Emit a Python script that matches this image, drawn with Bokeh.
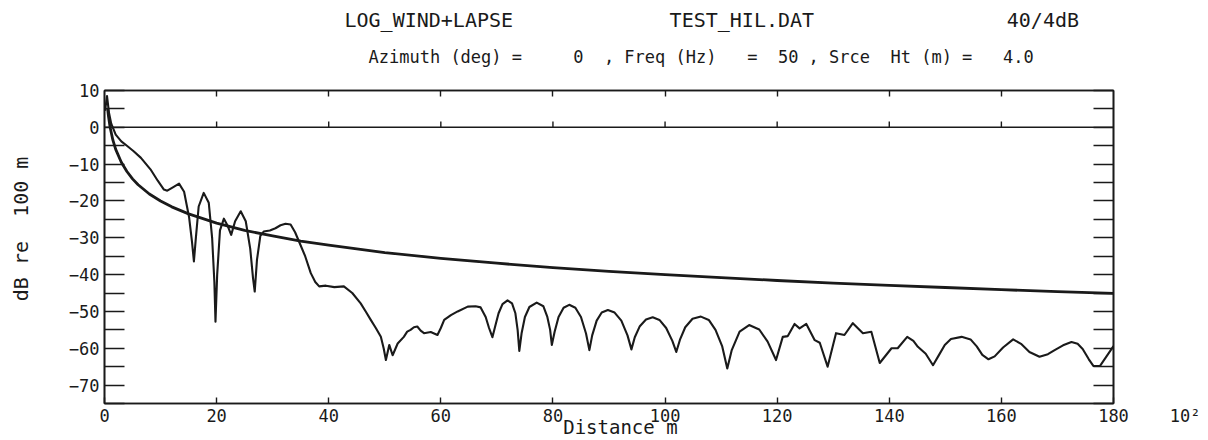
from bokeh.plotting import figure
from bokeh.models import FixedTicker, LinearAxis, Span, Range1d, Title
from bokeh.embed import file_html
from bokeh.resources import INLINE

# ---------------- data ----------------
# distance in units of 100 m, level in dB re 100 m
ref_dist = [0.55, 0.7, 1.0, 1.5, 2.0, 3.0, 4.0, 5.0, 6.0, 8.0, 10.0, 12.0, 15.0, 20.0, 25.0,
            30.0, 35.0, 40.0, 50.0, 60.0, 70.0, 80.0, 90.0, 100.0, 110.0, 120.0, 130.0,
            140.0, 150.0, 160.0, 170.0, 180.0]
ref_level = [5.2, 3.1, 0.0, -3.5, -6.0, -9.5, -12.0, -14.0, -15.6, -18.1, -20.0, -21.6, -23.5,
             -26.0, -28.0, -29.5, -30.9, -32.0, -34.0, -35.6, -36.9, -38.1, -39.1, -40.0,
             -40.8, -41.6, -42.3, -42.9, -43.5, -44.1, -44.6, -45.1]

dist = [0.1, 0.45, 0.8, 1.2, 2.0, 3.0, 4.0, 5.2, 6.5, 8.2, 9.5, 10.6, 11.2, 12.2, 13.3, 14.2,
        15.1, 15.6, 15.95, 16.3, 16.8, 17.7, 18.6, 19.2, 19.6, 19.8, 20.1, 20.6, 21.3, 21.9,
        22.6, 23.3, 24.3, 25.2, 26.0, 26.5, 26.8, 27.2, 27.8, 28.4, 29.5, 30.5, 31.4, 32.3,
        33.2, 34.0, 34.7, 35.8, 36.8, 37.6, 38.3, 39.5, 41.0, 42.7, 44.2, 45.7, 46.6, 47.5,
        48.4, 49.3, 49.8, 50.2, 50.8, 51.4, 52.3, 53.4, 54.0, 54.6, 55.2, 55.8, 56.4, 57.0,
        58.2, 59.4, 60.0, 60.6, 61.8,
        63.0, 64.8, 66.2, 67.1, 68.0, 68.6, 69.2, 69.7, 70.3, 71.0, 71.9, 72.7, 73.3, 73.7,
        74.0, 74.4, 75.0, 75.8, 77.1, 78.3, 79.0, 79.5, 79.8, 80.3, 81.0, 81.9, 82.9, 84.0,
        85.0, 85.9, 86.5, 87.0, 87.8, 88.7, 89.8, 91.0, 92.2, 93.3, 94.0, 94.6, 95.5, 96.6,
        97.8, 99.0, 100.2, 101.3, 102.0, 102.7, 103.6, 104.9, 106.4, 107.8, 109.0, 110.2,
        111.1, 111.9, 113.3, 115.0, 116.8, 118.3, 119.8, 121.0, 121.9, 123.1, 124.0, 125.2,
        126.7, 127.6, 129.0, 130.5, 132.0, 133.5, 135.3, 136.8, 138.3, 140.4, 141.5,
        143.2, 144.3, 145.1, 146.5, 147.8, 148.8, 149.9, 151.0, 152.9, 154.5, 155.6, 156.6,
        157.7, 158.8, 160.3, 162.1, 163.5, 165.0, 166.8, 168.3, 169.5, 171.0, 172.5, 173.6,
        174.5, 175.6, 176.4, 177.6, 180.0]
level = [4.5, 8.5, 4.0, 1.0, -2.0, -3.8, -5.0, -6.5, -8.3, -11.4, -14.5, -16.9, -17.2, -16.3,
         -15.3, -17.5, -24.5, -31.0, -36.4, -30.0, -21.5, -17.8, -20.5, -30.0, -42.0, -52.8,
         -40.0, -28.0, -24.8, -26.5, -29.2, -25.5, -22.8, -25.5, -33.0, -41.0, -44.6, -36.0,
         -29.5, -28.3, -28.0, -27.4, -26.6, -26.2, -26.4, -28.5, -31.0, -35.0, -39.6, -42.0,
         -43.2, -43.0, -43.4, -43.2, -45.0, -47.8, -50.0, -52.3, -54.5, -56.9, -60.0, -63.2,
         -59.1, -61.9, -58.7, -56.9, -55.5, -55.0, -54.3, -54.1, -55.2, -55.9, -55.6, -56.4,
         -54.5, -52.3, -51.0,
         -50.0, -48.7, -48.6, -48.9, -51.5, -54.5, -57.0, -54.0, -50.5, -48.0, -47.0, -47.8,
         -50.5, -55.0, -60.7, -56.0, -51.5, -48.8, -47.6, -48.6, -51.5, -55.0, -59.1, -55.5,
         -51.5, -49.0, -48.2, -49.0, -51.5, -56.0, -60.5, -56.5, -52.5, -50.3, -49.6, -50.3,
         -52.5, -56.5, -60.3, -57.0, -54.0, -52.2, -51.6, -52.3, -54.5, -58.0, -61.0, -57.5,
         -54.3, -52.0, -51.4, -52.3, -55.0, -59.5,
         -65.5, -60.5, -55.5, -53.7, -54.9, -58.2, -63.2, -56.9, -56.7, -53.4, -54.6, -53.4,
         -57.8, -58.5, -65.0, -55.9, -56.4, -53.2, -55.9, -55.5, -64.0, -60.0, -60.0,
         -56.9, -58.0, -59.6, -61.5, -64.6, -62.0, -59.1, -57.5, -56.9, -57.6, -59.5, -61.8,
         -63.0, -62.2, -59.8, -57.6, -58.8, -61.0, -62.3, -61.6, -60.5, -59.2, -58.3, -58.8,
         -60.2, -63.0, -64.8, -64.8, -59.4]

x_ticks = [0, 20, 40, 60, 80, 100, 120, 140, 160, 180]
inner_x_ticks = [20, 40, 60, 80, 100, 120, 140, 160]
y_ticks = list(range(-75, 11, 5))

title_1 = ["LOG_WIND+LAPSE", "TEST_HIL.DAT", "40/4dB"]
title_2 = ["Azimuth", "(deg)", "=", "0", ",", "Freq", "(Hz)", "=", "50", ",", "Srce", "Ht", "(m)", "=", "4.0"]
x_title = "Distance m"
y_title = "dB re  100 m"
x_scale_note = "10\u00b2"

# ---------------- layout helpers (character columns in a monospaced line) ----------------
title_1_cols = [0, 27, 55]
title_2_cols = [0, 8, 14, 20, 23, 25, 30, 37, 40, 43, 45, 51, 54, 58, 62]
NB = "\u00a0"


def mono_line(pieces, cols):
    s = ""
    for t, c in zip(pieces, cols):
        s += NB * max(0, c - len(s)) + t
    return s


def keep_spaces(s):
    return s.replace(" ", NB)


FONT = "DejaVu Sans Mono"
INK = "#1a1a1a"

y_labels = {t: ("" if t % 10 else str(t).replace("-", "\u2212")) for t in y_ticks}
x_labels = {t: str(t) for t in x_ticks}
x_labels[180] = NB * 7 + "180" + NB * 4 + x_scale_note

# ---------------- figure ----------------
p = figure(width=1208, height=440, x_range=Range1d(0, 180), y_range=Range1d(-75, 10),
           output_backend="svg", toolbar_location=None,
           min_border_left=104, min_border_right=95, min_border_top=90, min_border_bottom=37)
p.grid.visible = False
p.outline_line_color = INK
p.outline_line_width = 1.6
p.background_fill_color = "white"
p.border_fill_color = "white"

xa = p.xaxis[0]
xa.ticker = FixedTicker(ticks=x_ticks)
xa.major_label_overrides = x_labels
xa.major_tick_in = 6
xa.major_tick_out = 0
xa.minor_tick_line_color = None
xa.major_label_standoff = 2
xa.major_label_text_font = FONT
xa.major_label_text_font_size = "17px"
xa.major_label_text_color = INK
xa.axis_line_color = INK
xa.axis_line_width = 1.6
xa.major_tick_line_color = INK
xa.major_tick_line_width = 1.4
xa.axis_label = NB * 2 + x_title
xa.axis_label_text_font = FONT
xa.axis_label_text_font_size = "19px"
xa.axis_label_text_font_style = "normal"
xa.axis_label_text_color = INK
xa.axis_label_standoff = -13

ya = p.yaxis[0]
ya.ticker = FixedTicker(ticks=y_ticks)
ya.major_label_overrides = y_labels
ya.major_tick_in = 20
ya.major_tick_out = 0
ya.minor_tick_line_color = None
ya.major_label_standoff = 5
ya.major_label_text_font = FONT
ya.major_label_text_font_size = "17px"
ya.major_label_text_color = INK
ya.axis_line_color = INK
ya.axis_line_width = 1.6
ya.major_tick_line_color = INK
ya.major_tick_line_width = 1.4
ya.axis_label = NB * 3 + keep_spaces(y_title)
ya.axis_label_text_font = FONT
ya.axis_label_text_font_size = "20px"
ya.axis_label_text_font_style = "normal"
ya.axis_label_text_color = INK
ya.axis_label_standoff = 33

top = LinearAxis(ticker=FixedTicker(ticks=inner_x_ticks), major_tick_in=6, major_tick_out=0,
                 minor_tick_line_color=None, major_label_text_font_size="0px",
                 axis_line_color=INK, axis_line_width=1.6, major_tick_line_color=INK,
                 major_tick_line_width=1.4)
p.add_layout(top, "above")
right = LinearAxis(ticker=FixedTicker(ticks=y_ticks), major_tick_in=20, major_tick_out=0,
                   minor_tick_line_color=None, major_label_text_font_size="0px",
                   axis_line_color=INK, axis_line_width=1.6, major_tick_line_color=INK,
                   major_tick_line_width=1.4)
p.add_layout(right, "right")

# titles (stacked outward from the frame: second line first)
p.add_layout(Title(text=mono_line(title_2, title_2_cols), align="left", offset=264,
                   text_font=FONT, text_font_size="17px", text_font_style="normal",
                   text_color=INK, standoff=48), "above")
try:
    t1 = Title(text=mono_line(title_1, title_1_cols), align="left", offset=240,
               text_font=FONT, text_font_size="20px", text_font_style="normal",
               text_color=INK, standoff=-23)
except Exception:
    t1 = Title(text=mono_line(title_1, title_1_cols), align="left", offset=240,
               text_font=FONT, text_font_size="20px", text_font_style="normal",
               text_color=INK, standoff=0)
p.add_layout(t1, "above")

p.add_layout(Span(location=0, dimension="width", line_color=INK, line_width=1.6))
p.segment(x0=inner_x_ticks, y0=[0] * len(inner_x_ticks), x1=inner_x_ticks,
          y1=[1.6] * len(inner_x_ticks), line_color=INK, line_width=1.4)

p.line(ref_dist, ref_level, line_color=INK, line_width=2.8, line_join="round")
p.line(dist, level, line_color=INK, line_width=2.1, line_join="round")

open("out.html", "w").write(file_html(p, INLINE))
